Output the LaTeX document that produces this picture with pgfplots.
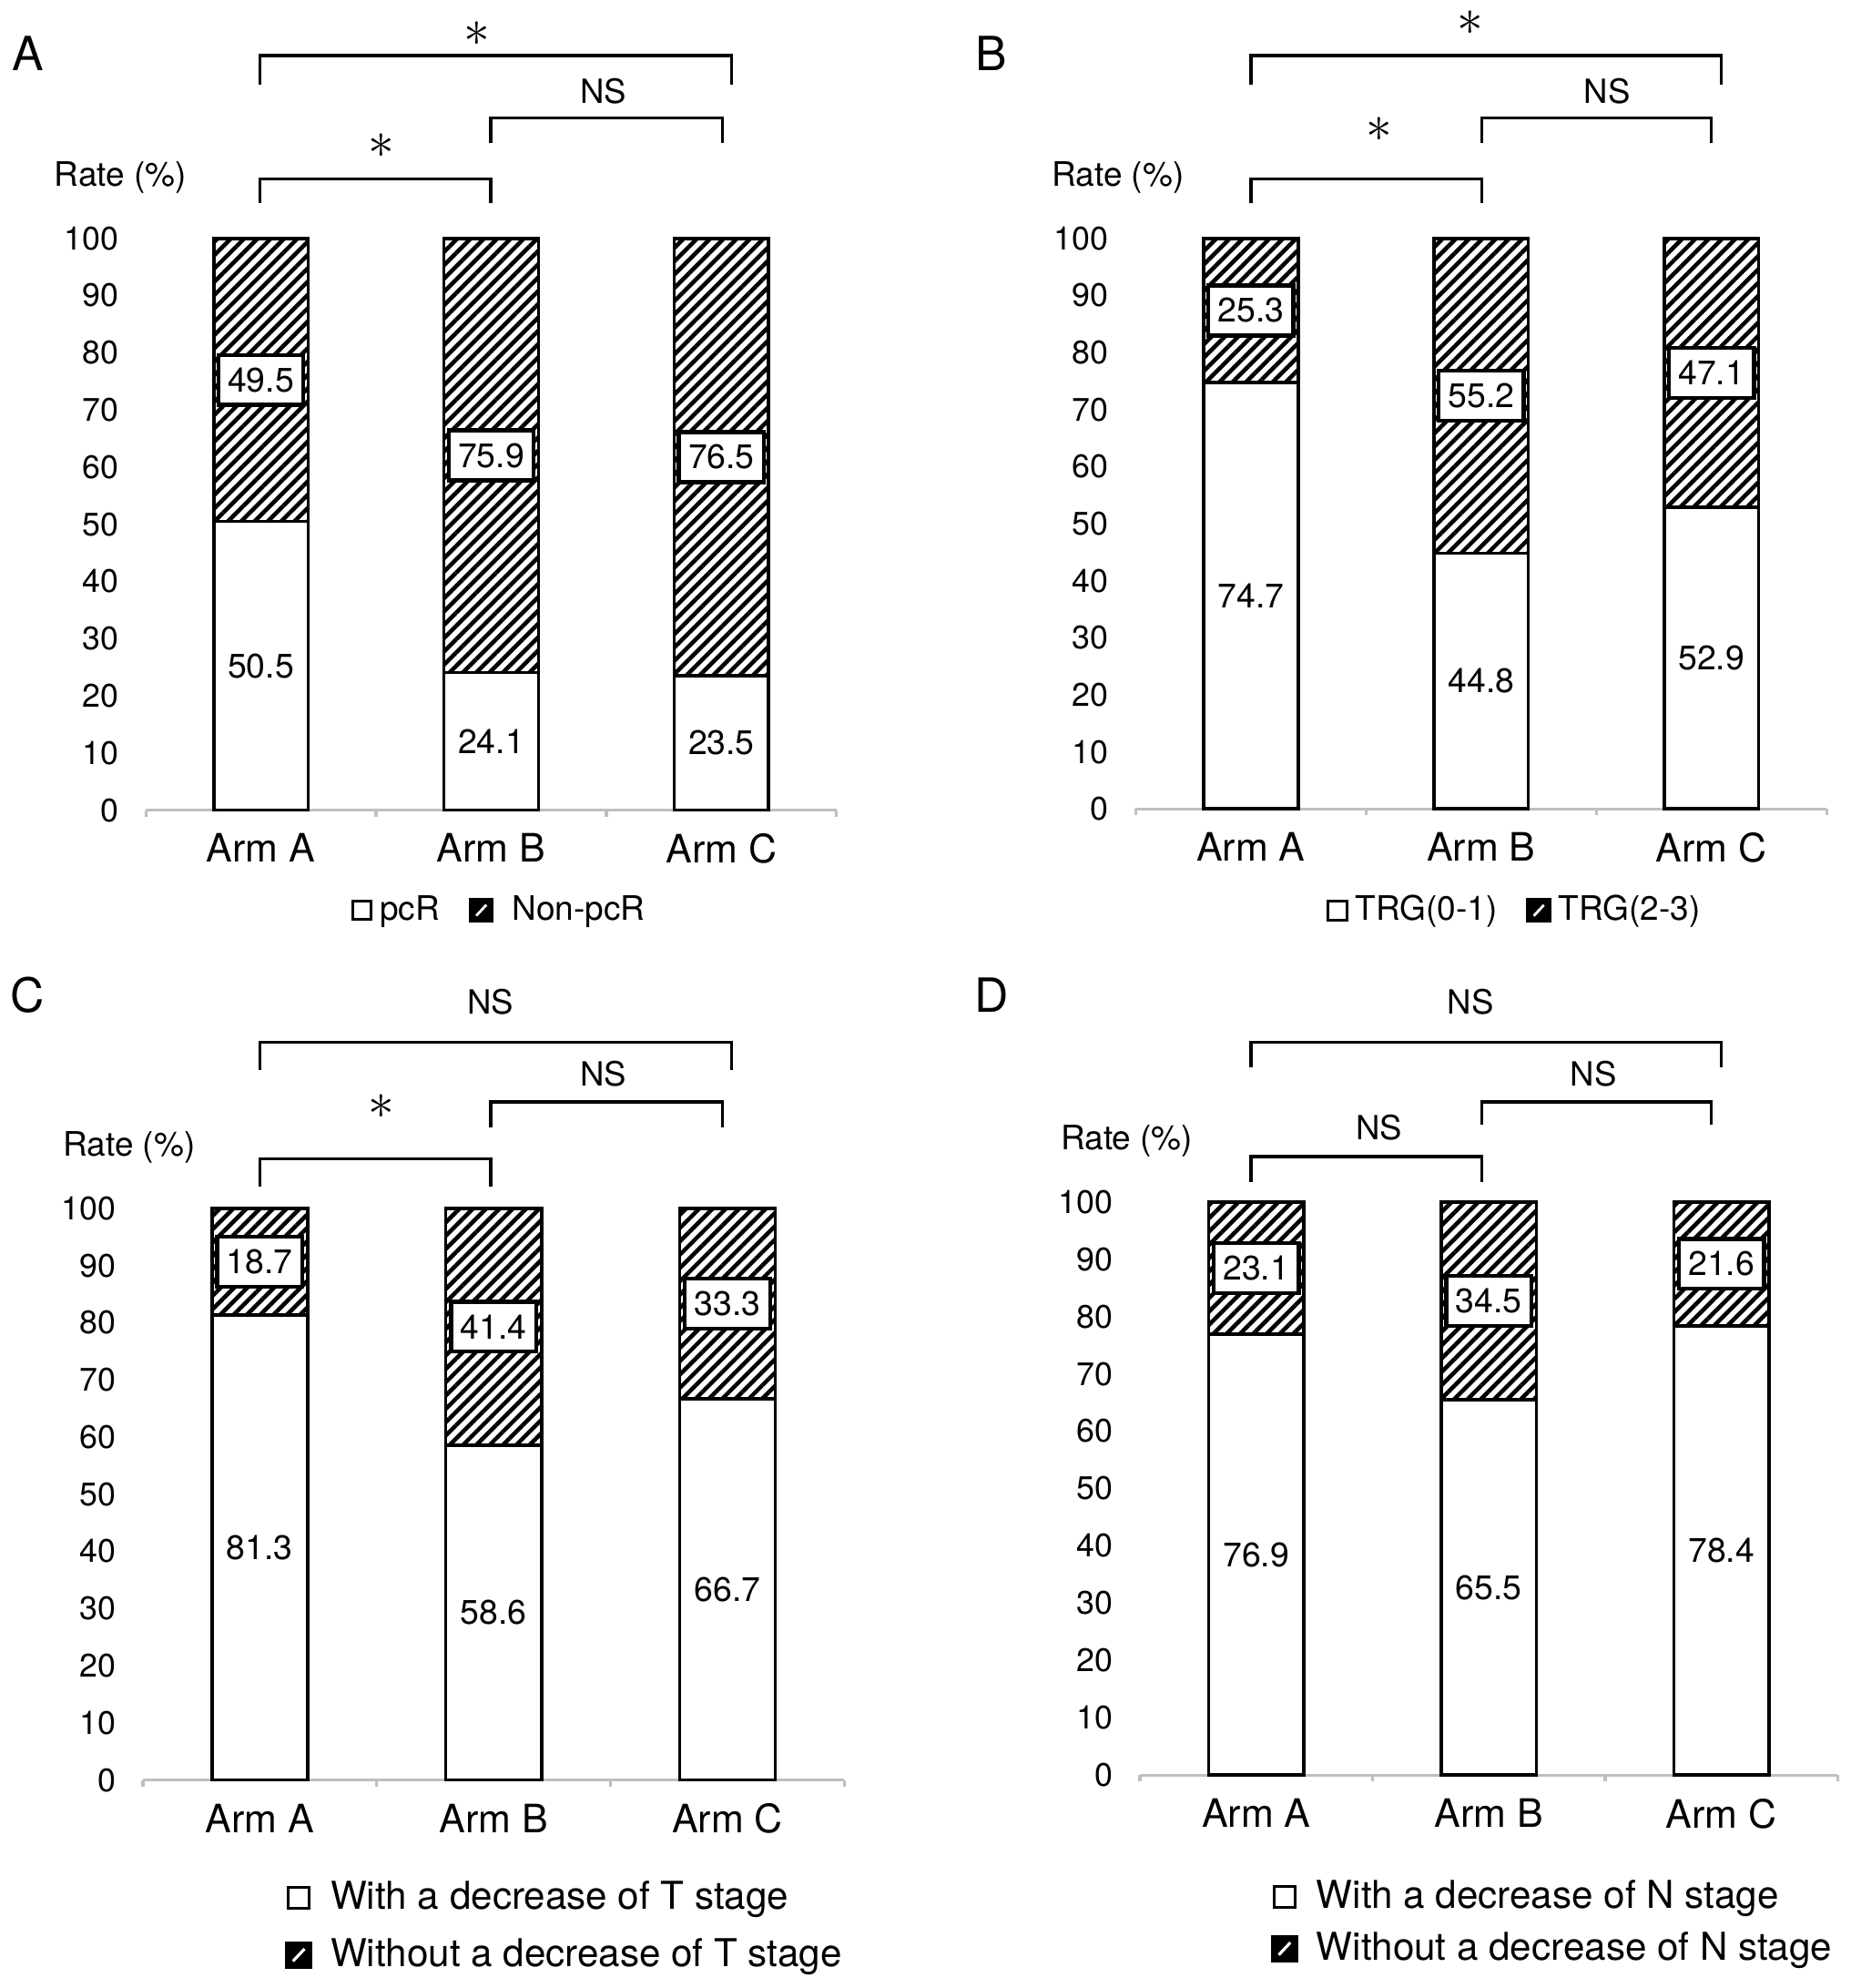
\documentclass[border=0pt]{standalone}
\usepackage{fontspec}
\setmainfont{TeX Gyre Heros}
\usepackage{pgfplots}
\pgfplotsset{compat=1.18}
\usetikzlibrary{patterns.meta}
\tikzset{
  hatch/.style={pattern={Lines[angle=45,distance=2.6pt,line width=1.15pt]}},
  vbox/.style={draw=black, line width=1.1pt, fill=white, minimum width=23.5pt, minimum height=13.8pt, inner sep=1pt, font=\fontsize{9.4}{10}\selectfont},
  vtxt/.style={font=\fontsize{9.4}{10}\selectfont},
  ns/.style={font=\fontsize{9.2}{10}\selectfont},
  star/.style={font=\fontsize{14}{14}\selectfont, inner sep=0pt},
  plet/.style={font=\fontsize{13}{13}\selectfont},
  rate/.style={font=\fontsize{9.3}{10}\selectfont},
  sep/.style={draw=black!25, line width=0.8pt},
}
\pgfplotsset{
  panel/.style={
    scale only axis, anchor=south west,
    ybar stacked, bar width=0.41,
    ymin=0, ymax=100, ytick={0,10,...,100},
    xmin=-0.5, xmax=2.5, xtick={0,1,2}, xticklabels={Arm A, Arm B, Arm C},
    axis x line*=bottom, axis y line*=left,
    y axis line style={draw=none},
    x axis line style={draw=black!25, line width=0.8pt},
    major tick length=0pt,
    tick style={draw=none},
    /pgf/number format/assume math mode=true,
    yticklabel style={font=\fontsize{9}{10}\selectfont, xshift=-4pt},
    xticklabel style={font=\fontsize{10.8}{12}\selectfont, yshift=-3pt},
    clip=false,
    legend style={draw=none, fill=none, font=\fontsize{9.3}{11}\selectfont,
      /tikz/every even column/.append style={column sep=6pt}},
    legend cell align=left,
  },
  whitebar/.style={fill=white, draw=black, line width=0.9pt,
    legend image code/.code={\draw[line width=0.8pt,fill=white] (0pt,-2.6pt) rectangle (5.2pt,2.6pt);}},
  hatchbar/.style={hatch, draw=black, line width=0.9pt,
    legend image code/.code={\fill[black] (-0.4pt,-3pt) rectangle (5.6pt,3pt); \draw[white,line width=0.7pt] (1.2pt,-1.5pt) -- (4pt,1.5pt);}},
  whitebarL/.style={fill=white, draw=black, line width=0.9pt,
    legend image code/.code={\draw[line width=0.9pt,fill=white] (0pt,-2.9pt) rectangle (5.8pt,2.9pt);}},
  hatchbarL/.style={hatch, draw=black, line width=0.9pt,
    legend image code/.code={\fill[black] (-0.45pt,-3.35pt) rectangle (6.25pt,3.35pt); \draw[white,line width=0.8pt] (1.3pt,-1.7pt) -- (4.5pt,1.7pt);}},
}
\newcommand{\seps}{%
  \draw[sep] (axis cs:-0.5,0) -- ++(0pt,-1.8pt);
  \draw[sep] (axis cs:0.5,0) -- ++(0pt,-1.8pt);
  \draw[sep] (axis cs:1.5,0) -- ++(0pt,-1.8pt);
  \draw[sep] (axis cs:2.5,0) -- ++(0pt,-1.8pt);
}
\newcommand{\labs}[7]{% prefix, six y positions
  \coordinate (#1w0) at (axis cs:0,#2);
  \coordinate (#1w1) at (axis cs:1,#3);
  \coordinate (#1w2) at (axis cs:2,#4);
  \coordinate (#1h0) at (axis cs:0,#5);
  \coordinate (#1h1) at (axis cs:1,#6);
  \coordinate (#1h2) at (axis cs:2,#7);
}
\begin{document}
\begin{tikzpicture}
\useasboundingbox (0,0) rectangle (511pt,-548.8pt);
% ---------------- Panel A
\begin{axis}[panel, at={(40.25pt,-223.65pt)}, width=190.75pt, height=157.85pt,
  legend columns=2, legend style={at={(0.515,-0.175)}, anchor=center}]
\addplot[whitebar] coordinates {(0,50.5) (1,24.1) (2,23.5)};
\addplot[hatchbar] coordinates {(0,49.5) (1,75.9) (2,76.5)};
\legend{pcR, \hspace{3pt}Non-pcR}
\seps
\labs{a}{25.25}{12.05}{11.75}{75.25}{62.05}{61.75}
\end{axis}
\node[vtxt] at (aw0) {50.5};
\node[vtxt] at (aw1) {24.1};
\node[vtxt] at (aw2) {23.5};
\node[vbox] at (ah0) {49.5};
\node[vbox] at (ah1) {75.9};
\node[vbox] at (ah2) {76.5};
% ---------------- Panel B
\begin{axis}[panel, at={(313.6pt,-223.3pt)}, width=190.75pt, height=157.5pt,
  legend columns=2, legend style={at={(0.552,-0.178)}, anchor=center}]
\addplot[whitebar] coordinates {(0,74.7) (1,44.8) (2,52.9)};
\addplot[hatchbar] coordinates {(0,25.3) (1,55.2) (2,47.1)};
\legend{TRG(0-1), TRG(2-3)}
\seps
\labs{b}{37.35}{22.4}{26.45}{87.35}{72.4}{76.45}
\end{axis}
\node[vtxt] at (bw0) {74.7};
\node[vtxt] at (bw1) {44.8};
\node[vtxt] at (bw2) {52.9};
\node[vbox] at (bh0) {25.3};
\node[vbox] at (bh1) {55.2};
\node[vbox] at (bh2) {47.1};
% ---------------- Panel C
\begin{axis}[panel, at={(39.46pt,-491.4pt)}, width=193.7pt, height=157.85pt,
  legend columns=1, legend style={at={(0.186,-0.256)}, anchor=west, row sep=2.5pt, font=\fontsize{10.6}{12}\selectfont,
  /tikz/every odd column/.append style={column sep=3pt}}]
\addplot[whitebarL] coordinates {(0,81.3) (1,58.6) (2,66.7)};
\addplot[hatchbarL] coordinates {(0,18.7) (1,41.4) (2,33.3)};
\legend{With a decrease of T stage, Without a decrease of T stage}
\seps
\labs{c}{40.65}{29.3}{33.35}{90.65}{79.3}{83.35}
\end{axis}
\node[vtxt] at (cw0) {81.3};
\node[vtxt] at (cw1) {58.6};
\node[vtxt] at (cw2) {66.7};
\node[vbox] at (ch0) {18.7};
\node[vbox] at (ch1) {41.4};
\node[vbox] at (ch2) {33.3};
% ---------------- Panel D
\begin{axis}[panel, at={(314.74pt,-490pt)}, width=192.7pt, height=158.2pt,
  legend columns=1, legend style={at={(0.171,-0.258)}, anchor=west, row sep=1pt, font=\fontsize{10.6}{12}\selectfont,
  /tikz/every odd column/.append style={column sep=3pt}}]
\addplot[whitebarL] coordinates {(0,76.9) (1,65.5) (2,78.4)};
\addplot[hatchbarL] coordinates {(0,23.1) (1,34.5) (2,21.6)};
\legend{With a decrease of N stage, Without a decrease of N stage}
\seps
\labs{d}{38.45}{32.75}{39.2}{88.45}{82.75}{89.2}
\end{axis}
\node[vtxt] at (dw0) {76.9};
\node[vtxt] at (dw1) {65.5};
\node[vtxt] at (dw2) {78.4};
\node[vbox] at (dh0) {23.1};
\node[vbox] at (dh1) {34.5};
\node[vbox] at (dh2) {21.6};
% ---------------- annotations (display units)
\begin{scope}[x=0.35pt, y=-0.35pt, line width=0.9pt]
\node[plet] at (22,42) {A};
\node[plet] at (782,42) {B};
\node[plet] at (22,785) {C};
\node[plet] at (782,785) {D};
\node[rate] at (95,140) {Rate (\%)};
\node[rate] at (882,140) {Rate (\%)};
\node[rate] at (102,905) {Rate (\%)};
\node[rate] at (889,900) {Rate (\%)};
% A brackets
\draw (205,67) -- (205,44) -- (577,44) -- (577,67);
\node[star] at (376,27) {$\ast$};
\draw (387,113) -- (387,93) -- (570,93) -- (570,113);
\node[ns] at (476,72) {NS};
\draw (205,160) -- (205,141) -- (387,141) -- (387,160);
\node[star] at (301,115) {$\ast$};
% B brackets
\draw (987,67) -- (987,44) -- (1358,44) -- (1358,67);
\node[star] at (1160,18) {$\ast$};
\draw (1169,113) -- (1169,93) -- (1350,93) -- (1350,113);
\node[ns] at (1268,72) {NS};
\draw (987,160) -- (987,141) -- (1169,141) -- (1169,160);
\node[star] at (1088,102) {$\ast$};
% C brackets
\draw (205,844) -- (205,822) -- (577,822) -- (577,844);
\node[ns] at (387,790) {NS};
\draw (387,889) -- (387,869) -- (570,869) -- (570,889);
\node[ns] at (476,847) {NS};
\draw (205,936) -- (205,914) -- (387,914) -- (387,936);
\node[star] at (301,873) {$\ast$};
% D brackets
\draw (987,842) -- (987,822) -- (1358,822) -- (1358,842);
\node[ns] at (1160,790) {NS};
\draw (1169,887) -- (1169,869) -- (1350,869) -- (1350,887);
\node[ns] at (1257,847) {NS};
\draw (987,932) -- (987,912) -- (1169,912) -- (1169,932);
\node[ns] at (1088,889) {NS};
\end{scope}
\end{tikzpicture}
\end{document}
